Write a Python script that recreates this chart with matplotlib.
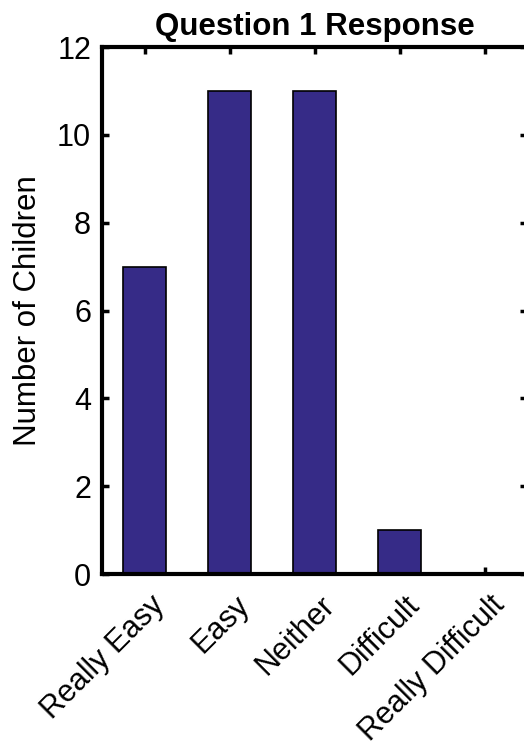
import matplotlib.pyplot as plt
from matplotlib.transforms import ScaledTranslation

plt.rcParams['font.family'] = ['Liberation Sans', 'DejaVu Sans']

categories = ['Really Easy', 'Easy', 'Neither', 'Difficult', 'Really Difficult']
counts = [7, 11, 11, 1, 0]
yticks = [0, 2, 4, 6, 8, 10, 12]


def main():
    fig = plt.figure(figsize=(5.24, 7.49), dpi=100)
    ax = fig.add_axes([0.195, 0.2336, 0.811, 0.7036])

    x = list(range(1, len(categories) + 1))
    ax.bar(x, counts, width=0.5, color='#362b87', edgecolor='black', linewidth=1.2, zorder=2)

    ax.set_xlim(0.5, 5.5)
    ax.set_ylim(0, 12)
    ax.set_xticks(x)
    ax.set_xticklabels([])
    # slanted category labels, sitting a little right of each tick like the original
    trans = ax.get_xaxis_transform() + ScaledTranslation(0.05, -0.16, fig.dpi_scale_trans)
    for xi, name in zip(x, categories):
        ax.text(xi, 0, name, transform=trans, rotation=45, ha='right', va='top',
                rotation_mode='anchor', fontsize=22)
    ax.set_yticks(yticks)
    ax.tick_params(axis='y', labelsize=22, pad=8)
    ax.tick_params(direction='in', length=5, width=2.5, top=True, right=True)
    for s in ax.spines.values():
        s.set_linewidth(3)

    ax.set_ylabel('Number of Children', fontsize=22.5, labelpad=10)
    ax.set_title('Question 1 Response', fontsize=22.5, fontweight='bold', pad=9)

    plt.savefig('out.png', dpi=100)


if __name__ == "__main__":
    main()
